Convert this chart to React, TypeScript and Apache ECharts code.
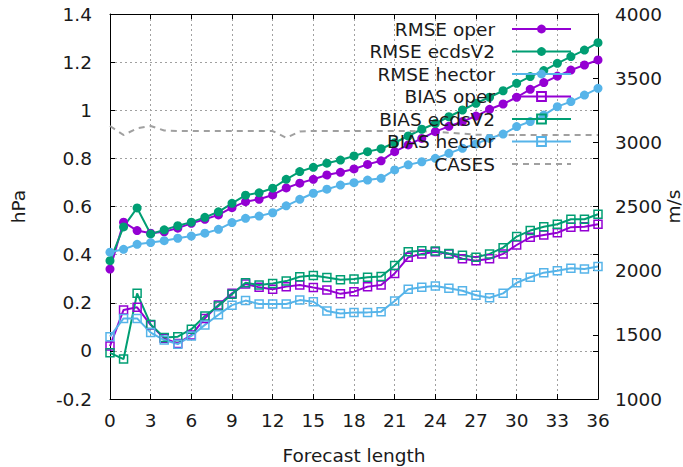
import React, { useEffect, useRef } from 'react';
import * as echarts from 'echarts';

const hours = [0, 1, 2, 3, 4, 5, 6, 7, 8, 9, 10, 11, 12, 13, 14, 15, 16, 17, 18, 19, 20, 21, 22, 23, 24, 25, 26, 27, 28, 29, 30, 31, 32, 33, 34, 35, 36];

const rmseOper = [0.34, 0.535, 0.5, 0.489, 0.495, 0.51, 0.53, 0.547, 0.565, 0.595, 0.62, 0.63, 0.648, 0.677, 0.697, 0.713, 0.731, 0.742, 0.756, 0.775, 0.79, 0.828, 0.856, 0.883, 0.911, 0.933, 0.953, 0.976, 1.004, 1.026, 1.054, 1.087, 1.115, 1.142, 1.167, 1.188, 1.209];
const rmseEcds = [0.375, 0.515, 0.594, 0.486, 0.503, 0.52, 0.535, 0.555, 0.578, 0.613, 0.647, 0.657, 0.676, 0.713, 0.745, 0.763, 0.78, 0.793, 0.81, 0.828, 0.84, 0.865, 0.893, 0.921, 0.945, 0.973, 1.001, 1.029, 1.054, 1.081, 1.112, 1.14, 1.165, 1.195, 1.223, 1.25, 1.281];
const rmseHector = [0.41, 0.422, 0.443, 0.45, 0.458, 0.468, 0.477, 0.489, 0.505, 0.533, 0.551, 0.56, 0.574, 0.603, 0.63, 0.655, 0.672, 0.689, 0.699, 0.71, 0.717, 0.752, 0.773, 0.786, 0.8, 0.821, 0.842, 0.86, 0.883, 0.901, 0.932, 0.953, 0.98, 1.015, 1.036, 1.063, 1.091];

const biasOper = [0.02, 0.17, 0.181, 0.108, 0.052, 0.031, 0.066, 0.135, 0.191, 0.239, 0.278, 0.264, 0.256, 0.267, 0.274, 0.263, 0.253, 0.237, 0.246, 0.267, 0.274, 0.322, 0.389, 0.403, 0.412, 0.403, 0.383, 0.375, 0.383, 0.403, 0.44, 0.472, 0.482, 0.491, 0.514, 0.516, 0.526];
const biasEcds = [-0.008, -0.034, 0.239, 0.11, 0.056, 0.059, 0.09, 0.145, 0.187, 0.235, 0.283, 0.274, 0.28, 0.29, 0.308, 0.313, 0.305, 0.296, 0.299, 0.306, 0.309, 0.355, 0.412, 0.416, 0.415, 0.405, 0.397, 0.389, 0.403, 0.429, 0.475, 0.5, 0.516, 0.526, 0.547, 0.547, 0.568];
const biasHector = [0.059, 0.135, 0.135, 0.076, 0.045, 0.028, 0.062, 0.108, 0.15, 0.19, 0.209, 0.195, 0.195, 0.195, 0.211, 0.204, 0.166, 0.155, 0.16, 0.16, 0.163, 0.207, 0.256, 0.264, 0.27, 0.26, 0.25, 0.231, 0.221, 0.239, 0.283, 0.306, 0.325, 0.333, 0.343, 0.34, 0.351];

const cases = [3127, 3057, 3109, 3127, 3092, 3088, 3088, 3088, 3088, 3088, 3088, 3088, 3088, 3035, 3085, 3088, 3088, 3088, 3088, 3088, 3088, 3088, 3088, 3086, 3084, 3075, 3068, 3060, 3057, 3057, 3057, 3057, 3057, 3057, 3057, 3057, 3057];

const seriesNames = ['RMSE oper', 'RMSE ecdsV2', 'RMSE hector', 'BIAS oper', 'BIAS ecdsV2', 'BIAS hector', 'CASES'];

const PURPLE = '#9400d3';
const GREEN = '#009e73';
const BLUE = '#56b4e9';
const GRAY = '#a0a0a0';
const FONT = 'DejaVu Sans';
const TEXT = '#1a1a1a';
const FS = 18.5;

const pairs = (vals: number[]) => hours.map((h, i) => [h, vals[i]]);

const filled = (name: string, color: string, vals: number[]) => ({
  name,
  type: 'line',
  xAxisIndex: 0,
  yAxisIndex: 0,
  data: pairs(vals),
  symbol: 'circle',
  symbolSize: 9,
  itemStyle: { color },
  lineStyle: { color, width: 2 },
});

const hollow = (name: string, color: string, vals: number[]) => ({
  name,
  type: 'line',
  xAxisIndex: 0,
  yAxisIndex: 0,
  data: pairs(vals),
  symbol: 'rect',
  symbolSize: 8,
  itemStyle: { color: 'rgba(0,0,0,0)', borderColor: color, borderWidth: 1.5 },
  lineStyle: { color, width: 2 },
});

const labelStyle = { fontFamily: FONT, fontSize: FS, color: TEXT };
const borderLine = { onZero: false, lineStyle: { color: '#000', width: 1 } };
const innerTick = { inside: true, length: 5, lineStyle: { color: '#000', width: 1 } };
const gridLine = { show: true, lineStyle: { color: GRAY, type: [2, 3], width: 1 } };

export default function App() {
  const ref = useRef<HTMLDivElement>(null);
  useEffect(() => {
    const chart = echarts.init(ref.current!, null, { renderer: 'svg' });
    chart.setOption({
      animation: false,
      backgroundColor: '#fff',
      grid: { left: 110, right: 85, top: 14, bottom: 68, containLabel: false, outerBoundsMode: 'none' },
      legend: {
        orient: 'vertical',
        right: 111,
        top: 18,
        align: 'right',
        itemWidth: 59,
        itemHeight: 11,
        itemGap: 0.5,
        padding: 0,
        selectedMode: false,
        textStyle: { fontFamily: FONT, fontSize: FS, color: TEXT, lineHeight: 22, padding: [0, 12, 0, 0] },
        data: seriesNames,
      },
      xAxis: [
        {
          type: 'value', min: 0, max: 36, interval: 3, position: 'bottom',
          axisLine: borderLine, axisTick: innerTick,
          axisLabel: { ...labelStyle, margin: 12 },
          splitLine: gridLine,
          name: 'Forecast length', nameLocation: 'middle', nameGap: 47,
          nameTextStyle: labelStyle,
        },
        {
          type: 'value', min: 0, max: 36, interval: 3, position: 'top',
          axisLine: borderLine, axisTick: innerTick,
          axisLabel: { show: false }, splitLine: { show: false },
        },
      ],
      yAxis: [
        {
          type: 'value', min: -0.2, max: 1.4, interval: 0.2, position: 'left',
          axisLine: borderLine, axisTick: innerTick,
          axisLabel: { ...labelStyle, margin: 18 },
          splitLine: gridLine,
          name: 'hPa', nameLocation: 'middle', nameGap: 82, nameRotate: 90,
          nameMoveOverlap: false,
          nameTextStyle: labelStyle,
        },
        {
          type: 'value', min: 1000, max: 4000, interval: 500, position: 'right', offset: 0,
          axisLine: borderLine, axisTick: innerTick,
          axisLabel: { ...labelStyle, margin: 17, formatter: (v: number) => String(v) },
          splitLine: { show: false },
          name: 'm/s', nameLocation: 'middle', nameGap: 66, nameRotate: 90,
          nameMoveOverlap: false,
          nameTextStyle: labelStyle,
        },
        {
          type: 'value', min: -0.2, max: 1.4, interval: 0.2, position: 'right', offset: 0,
          axisLine: borderLine, axisTick: innerTick,
          axisLabel: { show: false }, splitLine: { show: false },
        },
      ],
      series: [
        filled(seriesNames[0], PURPLE, rmseOper),
        filled(seriesNames[1], GREEN, rmseEcds),
        filled(seriesNames[2], BLUE, rmseHector),
        hollow(seriesNames[3], PURPLE, biasOper),
        hollow(seriesNames[4], GREEN, biasEcds),
        hollow(seriesNames[5], BLUE, biasHector),
        {
          name: seriesNames[6],
          type: 'line',
          xAxisIndex: 0,
          yAxisIndex: 1,
          data: pairs(cases),
          symbol: 'none',
          itemStyle: { color: 'rgba(0,0,0,0)' },
          lineStyle: { color: GRAY, width: 2, type: [6, 5] },
        },
      ],
    });
    return () => chart.dispose();
  }, []);
  return <div ref={ref} style={{ position: 'absolute', left: 0, top: 0, width: 683, height: 467 }} />;
}
